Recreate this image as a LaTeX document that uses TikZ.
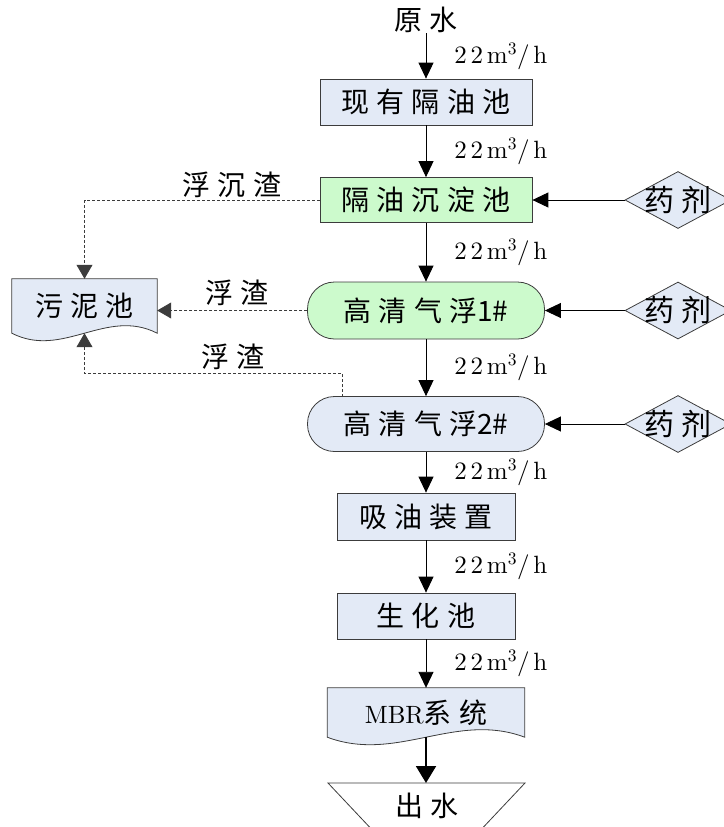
\documentclass[tikz,border=0pt]{standalone}
\usepackage{fontspec}
\newfontfamily\cjk{Noto Sans CJK SC}[LetterSpace=26]
\newfontfamily\cjktight{Noto Sans CJK SC}
\newfontfamily\lab{lmroman10-regular}[Extension=.otf,LetterSpace=15]
\newfontfamily\labplain{lmroman10-regular}[Extension=.otf]
\usetikzlibrary{arrows.meta,calc,positioning,shapes.geometric,backgrounds}
\definecolor{PaleBlue}{HTML}{E3EAF6}
\definecolor{PaleGreen}{HTML}{CCFACC}
\definecolor{EdgeGray}{HTML}{3C3C3C}
% wavy lower edge of the document shapes
\newcommand{\wavedoc}[1]{%
  \filldraw[outline,fill=PaleBlue] (#1.north west) -- (#1.north east) -- (#1.south east)
    .. controls ($(#1.south west)!0.65!(#1.south east)+(0,-26)$) and ($(#1.south west)!0.35!(#1.south east)+(0,26)$) .. (#1.south west) -- cycle;}

\begin{document}
\begin{tikzpicture}[x=1pt,y=-1pt,
    outline/.style={draw=EdgeGray,line width=0.8pt},
    txt/.style={inner sep=0pt,font=\fontsize{28}{32}\selectfont\cjk},
    unit/.style={txt,outline,fill=PaleBlue},
    pill/.style={unit,rounded corners=27pt,minimum width=237pt},
    dose/.style={txt,diamond,outline,fill=PaleBlue,minimum width=106pt,minimum height=57pt},
    flow/.style={-{Triangle[length=16pt,width=15pt]},line width=0.9pt},
    slag/.style={-{Triangle[length=14pt,width=16pt]},draw=EdgeGray,line width=0.8pt,dash pattern=on 3pt off 2pt},
    rate/.style={right=28pt,inner sep=0pt,font=\fontsize{25}{28}\selectfont\lab}]
  \useasboundingbox (0,0) rectangle (723,827);

  % main line
  \node[txt] (raw) at (426,20) {原水};
  \node[unit,minimum width=212pt,minimum height=46pt] (oilsep) at (426,102) {现有隔油池};
  \node[unit,fill=PaleGreen,minimum width=212pt,minimum height=45pt] (settle) at (426,200) {隔油沉淀池};
  \node[pill,fill=PaleGreen,minimum height=57pt] (float1) at (426,310.5) {高清气浮{\cjktight 1\#}};
  \node[pill,minimum height=55pt] (float2) at (426,424) {高清气浮{\cjktight 2\#}};
  \node[unit,minimum width=178pt,minimum height=47pt] (absorb) at (426,516.5) {吸油装置};
  \node[unit,minimum width=178pt,minimum height=46pt] (bio) at (426,616) {生化池};
  \node[txt,minimum width=197pt,minimum height=49pt] (mbr) at (426,712.5) {{\labplain\fontsize{25}{28}\selectfont MBR}系统};
  \node[txt] (drain) at (427,806) {出水};
  \coordinate (outlet) at (426,783);

  % side nodes
  \node[txt,minimum width=145pt,minimum height=54pt] (sludge) at (84.5,306) {污泥池};
  \foreach \i/\y in {1/200,2/310.5,3/424}
    \node[dose] (dose\i) at (678,\y) {\makebox[0pt]{\fontsize{30}{32}\selectfont 药剂}};

  \begin{scope}[on background layer]
    \wavedoc{sludge}
    \wavedoc{mbr}
  \end{scope}
  \draw[outline] (377,835) -- (328,783) -- (525,783) -- (476,835);

  % flow arrows
  \draw[flow] (raw.south) -- node[rate] {22m\textsuperscript{3}/h} (oilsep.north);
  \draw[flow] (oilsep.south) -- node[rate] {22m\textsuperscript{3}/h} (settle.north);
  \draw[flow] (settle.south) -- node[rate] {22m\textsuperscript{3}/h} (float1.north);
  \draw[flow] (float1.south) -- node[rate] {22m\textsuperscript{3}/h} (float2.north);
  \draw[flow] (float2.south) -- node[rate] {22m\textsuperscript{3}/h} (absorb.north);
  \draw[flow] (absorb.south) -- node[rate] {22m\textsuperscript{3}/h} (bio.north);
  \draw[flow] (bio.south) -- node[rate] {22m\textsuperscript{3}/h} (mbr.north);
  \draw[-{Triangle[length=17pt,width=20pt]},line width=2pt] (mbr.south) -- (outlet);

  % dosing
  \draw[flow] (dose1.west) -- (settle.east);
  \draw[flow] (dose2.west) -- (float1.east);
  \draw[flow] (dose3.west) -- (float2.east);

  % sludge lines
  \draw[slag] (settle.west) -| (sludge.north);
  \node[txt] (froth) at (232,185) {浮沉渣};
  \draw[slag] (float1.west) -- (float1.west -| sludge.east);
  \node[txt] (scum1) at (237,293) {浮渣};
  \coordinate (skim) at ($(float2.north west)+(35,1)$);
  \draw[slag] (skim) -- ++(0,-24) -| (sludge.south);
  \node[txt] (scum2) at (233,357) {浮渣};
\end{tikzpicture}
\end{document}
